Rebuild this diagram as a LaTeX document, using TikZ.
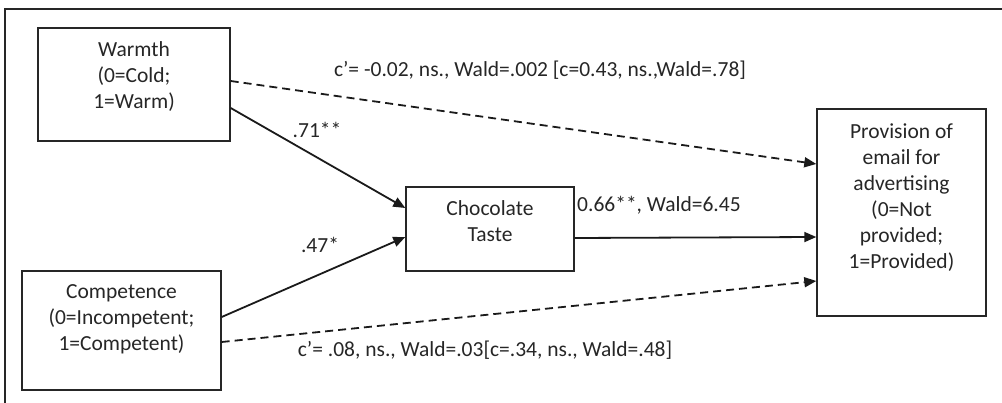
\documentclass[tikz,border=0pt]{standalone}
\usepackage{fontspec}
\setmainfont{Carlito}
\usetikzlibrary{arrows.meta}
\definecolor{ink}{HTML}{262626}
\definecolor{edge}{HTML}{1A1A1A}
\begin{document}
\begin{tikzpicture}[x=1pt,y=-1pt,
  every node/.style={font=\fontsize{21.5}{26}\selectfont, text=ink, inner sep=0pt},
  varbox/.style={draw=ink, line width=1.4pt, rectangle},
  vartext/.style={align=center},
  pathlab/.style={},
  solidpath/.style={draw=edge, line width=1.8pt, -{Triangle[length=12pt,width=10pt]}},
  dashpath/.style={draw=edge, line width=1.8pt, dash pattern=on 8pt off 5pt, -{Triangle[length=12pt,width=10pt]}}]
  \useasboundingbox (0,0) rectangle (1002,403);
  % frame (top and left edges)
  \draw[ink, line width=1.3pt] (5,403) -- (5,9) -- (1002,9);

  % variable boxes
  \node[varbox, minimum width=192pt, minimum height=113pt] (warm) at (134,84.5) {};
  \node[varbox, minimum width=199pt, minimum height=119pt] (comp) at (121.5,330.5) {};
  \node[varbox, minimum width=168pt, minimum height=84pt] (choc) at (490,229) {};
  \node[varbox, minimum width=169pt, minimum height=207pt] (prov) at (901.5,212.5) {};

  % box texts
  \node[vartext] (warmtxt) at (134,77) {Warmth\\(0=Cold;\\1=Warm)};
  \node[vartext] (comptxt) at (121.5,319) {Competence\\(0=Incompetent;\\1=Competent)};
  \node[vartext] (choctxt) at (490,221.5) {Chocolate\\Taste};
  \node[vartext] (provtxt) at (901.5,197.5) {Provision of\\email for\\advertising\\(0=Not\\provided;\\1=Provided)};

  % paths
  \draw[solidpath] ([yshift=-23.5pt]warm.east) -- ([yshift=21pt]choc.west);
  \draw[solidpath] ([yshift=13.5pt]comp.east) -- ([yshift=-8pt]choc.west);
  \draw[solidpath] ([yshift=-9pt]choc.east) -- ([yshift=-24.5pt]prov.west);
  \draw[dashpath] ([yshift=3.5pt]warm.east) -- ([yshift=48.5pt]prov.west);
  \draw[dashpath] ([yshift=-11.5pt]comp.east) -- ([yshift=-68.5pt]prov.west);

  % path coefficients
  \node[pathlab] (la) at (317,130) {.71**};
  \node[pathlab] (lb) at (320,245) {.47*};
  \node[pathlab, anchor=west] (lc) at (577,205) {0.66**, Wald=6.45};
  \node[pathlab] (ld) at (540,70) {c’= -0.02, ns., Wald=.002 [c=0.43, ns.,Wald=.78]};
  \node[pathlab] (le) at (485,350) {c’= .08, ns., Wald=.03[c=.34, ns., Wald=.48]};
\end{tikzpicture}
\end{document}
